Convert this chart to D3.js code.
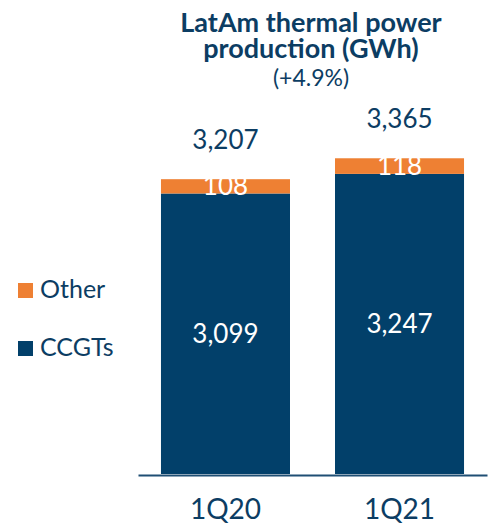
<!DOCTYPE html>
<html>
<head>
<meta charset="utf-8">
<script src="https://cdn.jsdelivr.net/npm/d3@7"></script>
<style>
  html, body { margin: 0; padding: 0; background: #fff; }
  svg text { font-family: "Lato", "Noto Sans", sans-serif; }
</style>
</head>
<body>
<div id="chart"></div>
<script>
// quarters and stacked series (GWh)
var categories = ['1Q20', '1Q21'];
var ccgtValues = [3099, 3247];
var otherValues = [108, 118];
var totalLabels = ['3,207', '3,365'];
var ccgtLabels = ['3,099', '3,247'];
var otherLabels = ['108', '118'];

var gColors = {
    navy : '#02406a',
    orange : '#ee8033',
    text : '#0c3d63'
};

var width = 490,
    height = 525;

var svg = d3.select('#chart').append('svg')
    .attr('width', width)
    .attr('height', height);

//---------------------------------------------------------------
// scales
var x = d3.scaleBand()
    .domain(categories)
    .range([138, 487])
    .paddingInner(0.2586)
    .paddingOuter(0.132);

// axis doesn't start at zero in the source
var y = d3.scaleLinear()
    .domain([980, 3500])
    .range([474, 140.4]);

var rows = categories.map(function(c, i){
    return {cat : c, ccgt : ccgtValues[i], other : otherValues[i],
            total : ccgtValues[i] + otherValues[i],
            totalLbl : totalLabels[i], ccgtLbl : ccgtLabels[i], otherLbl : otherLabels[i]};
});

//---------------------------------------------------------------
// bars
svg.selectAll('rect.ccgt')
    .data(rows).enter().append('rect')
    .attr('class', 'ccgt')
    .attr('x', function(d){ return x(d.cat); })
    .attr('width', x.bandwidth())
    .attr('y', function(d){ return y(d.ccgt); })
    .attr('height', function(d){ return y.range()[0] - y(d.ccgt); })
    .attr('fill', gColors.navy);

svg.selectAll('rect.other')
    .data(rows).enter().append('rect')
    .attr('class', 'other')
    .attr('x', function(d){ return x(d.cat); })
    .attr('width', x.bandwidth())
    .attr('y', function(d){ return y(d.total); })
    .attr('height', function(d){ return y(d.ccgt) - y(d.total); })
    .attr('fill', gColors.orange);

// baseline axis
var xAxis = d3.axisBottom(x).tickSize(0).tickPadding(0);
var gx = svg.append('g')
    .attr('transform', 'translate(0,' + (y.range()[0] + 1) + ')')
    .call(xAxis);
gx.select('.domain').attr('stroke', '#1f4f74').attr('stroke-width', 2);
gx.selectAll('.tick text')
    .attr('y', 44)
    .attr('dy', 0)
    .attr('fill', gColors.text)
    .style('font-size', '28px')
    .style('font-family', 'Lato, sans-serif');

//---------------------------------------------------------------
// value labels
svg.selectAll('text.ccgt-lbl')
    .data(rows).enter().append('text')
    .attr('x', function(d){ return x(d.cat) + x.bandwidth() / 2; })
    .attr('y', function(d){ return (y(d.ccgt) + y.range()[0]) / 2; })
    .attr('dy', '0.35em')
    .attr('text-anchor', 'middle')
    .attr('fill', '#fff')
    .style('font-size', '26px')
    .text(function(d){ return d.ccgtLbl; });

svg.selectAll('text.other-lbl')
    .data(rows).enter().append('text')
    .attr('x', function(d){ return x(d.cat) + x.bandwidth() / 2; })
    .attr('y', function(d){ return (y(d.ccgt) + y(d.total)) / 2; })
    .attr('dy', '0.35em')
    .attr('text-anchor', 'middle')
    .attr('fill', '#fff')
    .style('font-size', '26px')
    .text(function(d){ return d.otherLbl; });

svg.selectAll('text.total-lbl')
    .data(rows).enter().append('text')
    .attr('x', function(d){ return x(d.cat) + x.bandwidth() / 2; })
    .attr('y', function(d){ return y(d.total) - 30; })
    .attr('text-anchor', 'middle')
    .attr('fill', gColors.text)
    .style('font-size', '26px')
    .text(function(d){ return d.totalLbl; });

//---------------------------------------------------------------
// title
var title = svg.append('text')
    .attr('text-anchor', 'middle')
    .attr('fill', gColors.text);
title.append('tspan').attr('x', 311).attr('y', 32)
    .style('font-size', '27px').style('font-weight', 'bold')
    .text('LatAm thermal power');
title.append('tspan').attr('x', 311).attr('y', 58)
    .style('font-size', '27px').style('font-weight', 'bold')
    .text('production (GWh)');
title.append('tspan').attr('x', 311).attr('y', 86)
    .style('font-size', '23px')
    .text('(+4.9%)');

//---------------------------------------------------------------
// legend
var legendItems = [
    {name : 'Other', color : gColors.orange, y : 283},
    {name : 'CCGTs', color : gColors.navy, y : 341}
];
var lg = svg.selectAll('g.legend')
    .data(legendItems).enter().append('g')
    .attr('class', 'legend')
    .attr('transform', function(d){ return 'translate(18,' + d.y + ')'; });
lg.append('rect')
    .attr('width', 15).attr('height', 15)
    .attr('fill', function(d){ return d.color; });
lg.append('text')
    .attr('x', 22).attr('y', 15)
    .attr('fill', gColors.text)
    .style('font-size', '25px')
    .text(function(d){ return d.name; });
</script>
</body>
</html>
